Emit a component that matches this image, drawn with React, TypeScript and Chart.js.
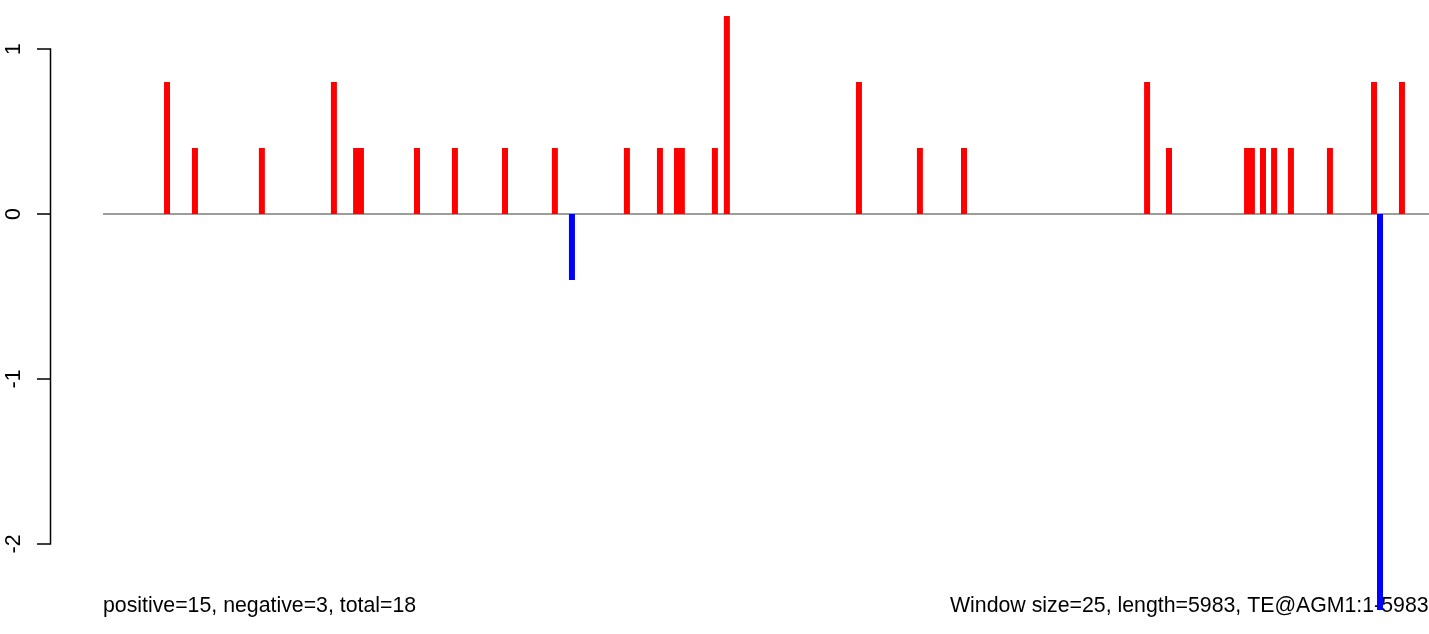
import React, { useEffect, useRef } from "react";
import { Chart, registerables } from "chart.js";

Chart.register(...registerables);

// Window start positions (bp) of windows with a positive score
const positivePositions = [
  289, 415, 717, 1042, 1142, 1164, 1417, 1588, 1814, 2039, 2364, 2513, 2590, 2612,
  2761, 2815, 3411, 3686, 3885, 4711, 4810, 5162, 5184, 5234, 5284, 5360, 5536,
  5735, 5861,
];
const positiveValues = [
  0.8, 0.4, 0.4, 0.8, 0.4, 0.4, 0.4, 0.4, 0.4, 0.4, 0.4, 0.4, 0.4, 0.4, 0.4, 1.2,
  0.8, 0.4, 0.4, 0.8, 0.4, 0.4, 0.4, 0.4, 0.4, 0.4, 0.4, 0.8, 0.8,
];
// Windows with a negative score
const negativePositions = [2116, 5762];
const negativeValues = [-0.4, -2.4];

// Sequence extent (baseline)
const sequenceStart = 0;
const sequenceEnd = 5983;

// Axis ranges / ticks
const xRange = [-239, 5983];
const yRange = [-2.5455, 1.297];
const yTickValues = [1, 0, -1, -2];

const leftNote = "positive=15, negative=3, total=18";
const rightNote = "Window size=25, length=5983, TE@AGM1:1-5983";

const FONT = '21.3px "Liberation Sans", Arial, Helvetica, sans-serif';

const rAxisPlugin = {
  id: "rAxis",
  beforeDatasetsDraw(chart: any) {
    const ctx = chart.ctx as CanvasRenderingContext2D;
    const y = chart.scales.y;
    const left = chart.chartArea.left;
    const xs = chart.scales.x;
    ctx.save();
    // axis line
    const pix = yTickValues.map((v) => y.getPixelForValue(v));
    const top = Math.min(...pix);
    const bot = Math.max(...pix);
    ctx.strokeStyle = "#000";
    ctx.lineWidth = 1.5;
    ctx.beginPath();
    ctx.moveTo(left + 0.5, top - 0.75);
    ctx.lineTo(left + 0.5, bot + 0.75);
    pix.forEach((p) => {
      ctx.moveTo(left + 0.5, p);
      ctx.lineTo(left - 13, p);
    });
    ctx.stroke();
    // labels (rotated, R style)
    ctx.fillStyle = "#000";
    ctx.font = FONT;
    yTickValues.forEach((v, i) => {
      ctx.save();
      ctx.translate(20, pix[i]);
      ctx.rotate(-Math.PI / 2);
      ctx.textAlign = "center";
      ctx.textBaseline = "alphabetic";
      ctx.fillText(String(v), 0, 0);
      ctx.restore();
    });
    // bottom notes
    ctx.textAlign = "left";
    ctx.textBaseline = "alphabetic";
    ctx.fillText(leftNote, xs.getPixelForValue(sequenceStart), 612);
    ctx.fillText(rightNote, 950, 612);
    ctx.restore();
  },
};

export default function App() {
  const canvasRef = useRef<HTMLCanvasElement | null>(null);

  useEffect(() => {
    if (!canvasRef.current) return;
    const chart = new Chart(canvasRef.current, {
      type: "bar",
      data: {
        datasets: [
          {
            type: "bar",
            label: "positive",
            data: positivePositions.map((x, i) => ({ x, y: positiveValues[i] })),
            backgroundColor: "#ff0000",
            borderWidth: 0,
            barThickness: 6,
            grouped: false,
            inflateAmount: 0,
            order: 1,
          } as any,
          {
            type: "bar",
            label: "negative",
            data: negativePositions.map((x, i) => ({ x, y: negativeValues[i] })),
            backgroundColor: "#0000ff",
            borderWidth: 0,
            barThickness: 6,
            grouped: false,
            inflateAmount: 0,
            order: 1,
          } as any,
          {
            type: "line",
            label: "baseline",
            data: [
              { x: sequenceStart, y: 0 },
              { x: sequenceEnd, y: 0 },
            ],
            borderColor: "#3c3c3c",
            borderWidth: 1.2,
            pointRadius: 0,
            fill: false,
            order: 2,
          } as any,
        ],
      },
      options: {
        animation: false,
        responsive: false,
        maintainAspectRatio: false,
        devicePixelRatio: 1,
        layout: { padding: { left: 50, right: 0, top: 0, bottom: 0 } },
        plugins: {
          legend: { display: false },
          tooltip: { enabled: false },
          title: { display: false },
        },
        scales: {
          x: {
            type: "linear",
            display: false,
            offset: false,
            min: xRange[0],
            max: xRange[1],
          },
          y: {
            type: "linear",
            display: false,
            min: yRange[0],
            max: yRange[1],
          },
        },
      },
      plugins: [rAxisPlugin],
    });
    return () => chart.destroy();
  }, []);

  return (
    <div
      style={{
        position: "absolute",
        left: 0,
        top: 0,
        width: 1429,
        height: 634,
        background: "#fff",
      }}
    >
      <canvas ref={canvasRef} width={1429} height={634} style={{ display: "block" }} />
    </div>
  );
}
